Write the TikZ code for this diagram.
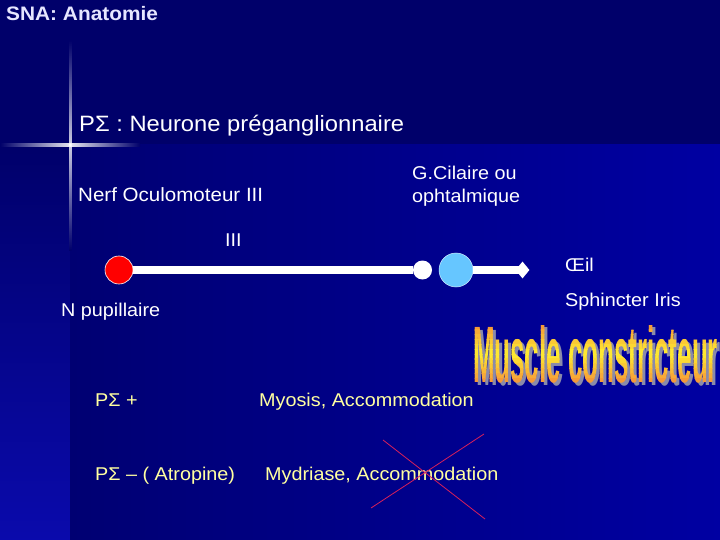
\documentclass[tikz,border=0pt]{standalone}
\usepackage{fontspec}
\usepackage{graphicx}
\setmainfont[FakeStretch=1.07]{Liberation Sans}
\newfontfamily\wordfont{Liberation Sans}
\usetikzlibrary{shapes.geometric}
\definecolor{bgtop}{HTML}{00006A}
\definecolor{bgmainL}{HTML}{000072}
\definecolor{bgmainR}{HTML}{0000A2}
\definecolor{bgleftB}{HTML}{0A0AAC}
\definecolor{paleyellow}{HTML}{FFFFA0}
\definecolor{titlecol}{HTML}{E6E6FF}
\definecolor{skyblue}{HTML}{66C6FF}
\definecolor{crossred}{HTML}{D8205A}
\definecolor{wordorange}{HTML}{F59A38}
\definecolor{wordyellow}{HTML}{FFF030}
\definecolor{wordshadow}{HTML}{8A8AAA}
\newcommand{\muscleword}{\resizebox{245pt}{58pt}{\wordfont\bfseries Muscle constricteur}}
\tikzset{
  txt/.style={anchor=base west, inner sep=0pt, text=white, font=\fontsize{18.5}{23}\selectfont},
  ytxt/.style={txt, text=paleyellow},
  nerve/.style={draw=white, line width=7.5pt},
}
\begin{document}
\begin{tikzpicture}[x=1pt,y=-1pt]
\useasboundingbox (0,0) rectangle (720,540);
% background
\fill[bgtop] (0,0) rectangle (720,540);
\shade[top color=bgtop, bottom color=bgleftB] (0,145) rectangle (70,540);
\shade[left color=bgmainL, right color=bgmainR] (70,145) rectangle (720,540);
% flare
\shade[left color=bgtop, right color=bgtop, middle color=white, opacity=0.9] (0,144) rectangle (140,146.5);
\shade[top color=bgtop, bottom color=bgtop, middle color=white, opacity=0.8] (69,40) rectangle (71.5,250);
\fill[white] (70,145) circle (1.6);

% title
\node[txt, text=titlecol, font=\fontsize{19.5}{24}\bfseries\selectfont] (title) at (6,21) {SNA: Anatomie};
\node[txt, font=\fontsize{22.2}{27}\selectfont] (pre) at (79,132) {PΣ : Neurone préganglionnaire};
\node[txt, font=\fontsize{19.2}{23}\selectfont] (nerf) at (78,202) {Nerf Oculomoteur III};
\node[txt, align=left, anchor=north west, font=\fontsize{18.5}{23}\selectfont] (gcil) at (412,166) {G.Cilaire ou\\ophtalmique};
\node[txt] (iii) at (225,247) {III};
\node[txt] (oeil) at (565,271) {Œil};
\node[txt] (sph) at (565,306.5) {Sphincter Iris};
\node[txt] (npup) at (61,316.5) {N pupillaire};

% nerve path
\node[circle, fill=red, draw=white, line width=0.6pt, minimum size=28pt, inner sep=0] (nr) at (119,270) {};
\node[circle, fill=white, minimum size=19pt, inner sep=0] (ns) at (422.5,270) {};
\node[circle, fill=skyblue, draw=white!70!skyblue, line width=0.5pt, minimum size=34pt, inner sep=0] (nb) at (456,270) {};
\node[diamond, fill=white, minimum width=14pt, minimum height=17pt, inner sep=0] (nd) at (522.5,270) {};
\draw[nerve] (nr) -- (ns);
\draw[nerve] (nb) -- (nd.center);

% Muscle constricteur (shadow + banded gradient fill)
\node[inner sep=0, text=wordshadow] (mshadow) at (598.5,357) {\muscleword};
\foreach \i in {0,...,11}{
  \pgfmathsetmacro{\yA}{325+\i*58/12}
  \pgfmathsetmacro{\yB}{325+(\i+1)*58/12+0.3}
  \pgfmathsetmacro{\mix}{100-abs(\i-5.5)/5.5*100}
  \begin{scope}
    \clip (470,\yA) rectangle (720,\yB);
    \node[inner sep=0, text=wordyellow!\mix!wordorange] at (595.5,354) {\muscleword};
  \end{scope}
}
\coordinate (mword) at (595.5,354);

% effects
\node[ytxt] (pplus) at (95,406) {PΣ +};
\node[ytxt] (myo) at (259,406) {Myosis, Accommodation};
\node[ytxt] (pminus) at (95,480) {PΣ – ( Atropine)};
\node[ytxt] (myd) at (265,480) {Mydriase, Accommodation};

% cross
\coordinate (c1a) at (383,440);
\coordinate (c1b) at (485,519);
\coordinate (c2a) at (484,434);
\coordinate (c2b) at (371,508);
\draw[crossred, line width=0.8pt] (c1a) -- (c1b);
\draw[crossred, line width=0.8pt] (c2a) -- (c2b);
\end{tikzpicture}
\end{document}
